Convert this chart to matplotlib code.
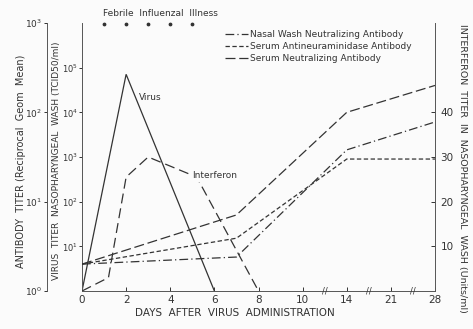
import numpy as np
import matplotlib
matplotlib.use('Agg')
import matplotlib.pyplot as plt

# day axis is piecewise: evenly spaced ticks, compressed after day 10
tick_days = [0, 2, 4, 6, 8, 10, 14, 21, 28]
febrile_days = [1, 2, 3, 4, 5]

virus_days = [0, 2, 6]
virus_titer = [1, 7.1e4, 1]

interferon_days = [0, 1.2, 2, 3, 5.2, 8]
interferon_titer = [0, 3, 25.5, 30, 25.5, 0]

antibody_days = [0, 7, 14, 28]
nasal_wash_nt = [2.0, 2.4, 38, 78]
serum_ani = [2.0, 3.9, 30, 30]
serum_nt = [2.0, 7.1, 100, 200]

ink = '#333333'
bg = '#fbfbfb'
lw = 0.9
plt.rcParams['font.family'] = 'DejaVu Sans'

fig = plt.figure(figsize=(4.73, 3.29), dpi=100, facecolor=bg)
ax = fig.add_axes([82/473, 38/329, 353/473, 268/329])
ax.set_facecolor('none')

idx = np.arange(len(tick_days))
fwd = lambda d: np.interp(d, tick_days, idx)
inv = lambda i: np.interp(i, idx, tick_days)
ax.set_xscale('function', functions=(fwd, inv))
ax.set_xlim(0, 28)

# virus titer (inner left axis)
ax.set_yscale('log')
ax.set_ylim(1, 1e6)
ax.plot(virus_days, virus_titer, color=ink, lw=lw, solid_joinstyle='miter')
ax.set_yticks([1e1, 1e2, 1e3, 1e4, 1e5])
ax.yaxis.set_minor_locator(matplotlib.ticker.NullLocator())
ax.set_xticks(tick_days)
ax.set_xticklabels([str(d) for d in tick_days])
ax.xaxis.set_minor_locator(matplotlib.ticker.NullLocator())
ax.tick_params(axis='x', direction='in', length=3, width=0.7, pad=3,
               colors=ink, labelsize=7.5)
ax.tick_params(axis='y', direction='out', length=2.5, width=0.7, pad=0.5,
               colors=ink, labelsize=6)
for s in ['top', 'right']:
    ax.spines[s].set_visible(False)
for s in ['left', 'bottom']:
    ax.spines[s].set_color('#555555')
    ax.spines[s].set_linewidth(0.7)

# antibody titer (outer left axis)
ax_ab = ax.twinx()
ax_ab.set_yscale('log')
ax_ab.set_ylim(1, 1e3)
ax_ab.yaxis.tick_left()
ax_ab.spines['left'].set_visible(True)
ax_ab.spines['left'].set_position(('outward', 35 * 72 / 100))
ax_ab.spines['left'].set_color('#555555')
ax_ab.spines['left'].set_linewidth(0.7)
for s in ['right', 'top', 'bottom']:
    ax_ab.spines[s].set_visible(False)
ax_ab.set_yticks([1, 10, 100, 1000])
ax_ab.yaxis.set_minor_locator(matplotlib.ticker.NullLocator())
ax_ab.tick_params(axis='y', direction='out', length=2.5, width=0.7, pad=1,
                  colors=ink, labelsize=6.5)

l_nw, = ax_ab.plot(antibody_days, nasal_wash_nt, color=ink, lw=lw,
                   dashes=(7, 2.5, 1, 2.5))
l_ani, = ax_ab.plot(antibody_days, serum_ani, color=ink, lw=lw,
                    dashes=(3.5, 2))
l_nt, = ax_ab.plot(antibody_days, serum_nt, color=ink, lw=lw,
                   dashes=(8, 3))

# interferon (right axis)
ax_if = ax.twinx()
ax_if.set_ylim(0, 60)
ax_if.set_yticks([10, 20, 30, 40])
for s in ['left', 'top', 'bottom']:
    ax_if.spines[s].set_visible(False)
ax_if.spines['right'].set_color('#555555')
ax_if.spines['right'].set_linewidth(0.7)
ax_if.tick_params(axis='y', direction='in', length=3, width=0.7, pad=4,
                  colors=ink, labelsize=7.5)
ax_if.plot(interferon_days, interferon_titer, color=ink, lw=lw,
           dashes=(8, 4))

# annotations
ax.text(2.6, 2.2e4, 'Virus', fontsize=6.5, color=ink, va='center')
ax_if.text(5.0, 25.8, 'Interferon', fontsize=6.5, color=ink, va='center',
           bbox=dict(facecolor=bg, edgecolor='none', pad=1.0), zorder=4)

trans = ax.get_xaxis_transform()
ax.text(3.55, 1.035, 'Febrile  Influenzal  Illness', transform=trans,
        ha='center', va='center', fontsize=6.5, color=ink, clip_on=False)
ax.scatter(febrile_days, [0.995] * len(febrile_days), transform=trans,
           s=3, color=ink, clip_on=False, zorder=5)

# axis breaks on the day axis
for d in [12, 17.5, 24.5]:
    ax.text(d, 0, '//', transform=trans, ha='center', va='center',
            fontsize=6, color=ink, clip_on=False)

ax_if.legend([l_nw, l_ani, l_nt],
             ['Nasal Wash Neutralizing Antibody',
              'Serum Antineuraminidase Antibody',
              'Serum Neutralizing Antibody'],
             loc='upper left', bbox_to_anchor=(0.405, 0.975), frameon=False,
             fontsize=6.5, handlelength=2.5, handletextpad=0.3,
             labelspacing=0.35, borderpad=0, borderaxespad=0,
             labelcolor=ink)

fig.text(21/473, 1 - 161/329, 'ANTIBODY  TITER (Reciprocal  Geom  Mean)',
         rotation=90, ha='center', va='center', fontsize=7, color=ink)
fig.text(57/473, 1 - 161/329,
         'VIRUS  TITER  NASOPHARYNGEAL  WASH (TCID50/ml)',
         rotation=90, ha='center', va='center', fontsize=6.5, color=ink)
fig.text(462/473, 1 - 168/329,
         'INTERFERON  TITER  IN  NASOPHARYNGEAL  WASH (Units/ml)',
         rotation=-90, ha='center', va='center', fontsize=6.8, color=ink)
fig.text(235/473, 1 - 313/329, 'DAYS  AFTER  VIRUS  ADMINISTRATION',
         ha='center', va='center', fontsize=7.5, color=ink)

fig.savefig('out.png', dpi=100, facecolor=fig.get_facecolor())
